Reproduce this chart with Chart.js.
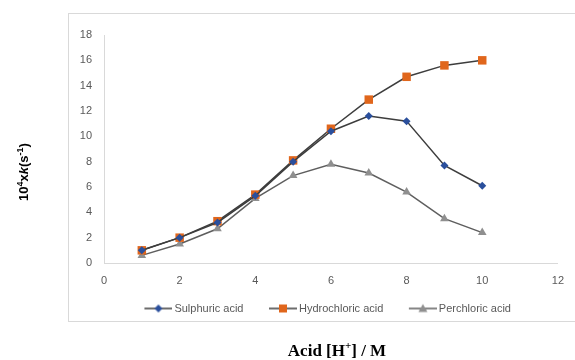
<!DOCTYPE html>
<html>
<head>
<meta charset="utf-8">
<script src="https://cdn.jsdelivr.net/npm/chart.js@4/dist/chart.umd.min.js"></script>
<style>
    html, body { margin: 0; padding: 0; background: #fff; }
    #wrap { width: 575px; height: 360px; }
</style>
</head>
<body>
<div id="wrap"><canvas id="lineChart" width="575" height="360"></canvas></div>
<script>
// acid concentration [H+] / M
const acidConc = [1, 2, 3, 4, 5, 6, 7, 8, 9, 10];
const sulphuric = [1.0, 2.0, 3.2, 5.3, 8.0, 10.4, 11.6, 11.2, 7.7, 6.1];
const hydrochloric = [1.0, 2.0, 3.3, 5.4, 8.1, 10.6, 12.9, 14.7, 15.6, 16.0];
const perchloric = [0.6, 1.5, 2.7, 5.1, 6.9, 7.8, 7.1, 5.6, 3.5, 2.4];
const seriesNames = ["Sulphuric acid", "Hydrochloric acid", "Perchloric acid"];
const xTicks = [0, 2, 4, 6, 8, 10, 12];
const yTicks = [0, 2, 4, 6, 8, 10, 12, 14, 16, 18];

const BLUE = "#2a4f9c";
const ORANGE = "#e0661c";
const GREY = "#8f8f8f";
const TICK_COLOR = "#595959";

function toPoints(vals) {
    return acidConc.map(function (x, i) { return { x: x, y: vals[i] }; });
}

// little line+marker picture for the legend, like excel does it.
// left part is empty so the items get more room between them
function legendIcon(style, fill, lineColor) {
    const c = document.createElement("canvas");
    c.width = 47;
    c.height = 12;
    const g = c.getContext("2d");
    g.strokeStyle = lineColor;
    g.lineWidth = 1.5;
    g.beginPath();
    g.moveTo(19, 6);
    g.lineTo(47, 6);
    g.stroke();
    g.fillStyle = fill;
    g.beginPath();
    const m = 33;
    if (style === "rectRot") {
        g.moveTo(m, 2); g.lineTo(m + 4, 6); g.lineTo(m, 10); g.lineTo(m - 4, 6);
    } else if (style === "rect") {
        g.rect(m - 4, 2, 8, 8);
    } else {
        g.moveTo(m, 1.5); g.lineTo(m + 4.5, 9.5); g.lineTo(m - 4.5, 9.5);
    }
    g.closePath();
    g.fill();
    return c;
}

const icons = [
    legendIcon("rectRot", BLUE, "#3d3d3d"),
    legendIcon("rect", ORANGE, "#3d3d3d"),
    legendIcon("triangle", GREY, "#5e5e5e"),
];

// draw text pieces (normal / superscript / italic) one after another
function drawPieces(ctx, pieces, x, y) {
    pieces.forEach(function (p) {
        ctx.font = p.font;
        ctx.fillText(p.t, x, y - (p.up || 0));
        x += ctx.measureText(p.t).width;
    });
}
function piecesWidth(ctx, pieces) {
    let w = 0;
    pieces.forEach(function (p) {
        ctx.font = p.font;
        w += ctx.measureText(p.t).width;
    });
    return w;
}

const decor = {
    id: "decor",
    afterLayout: function (chart) {
        // the icons have an empty left part, move the legend back a bit
        if (chart.legend) {
            chart.legend.left -= 11;
            chart.legend.right -= 11;
        }
    },
    beforeDraw: function (chart) {
        const ctx = chart.ctx;
        ctx.save();
        ctx.fillStyle = "#fff";
        ctx.fillRect(0, 0, chart.width, chart.height);
        ctx.strokeStyle = "#d9d9d9";
        ctx.lineWidth = 1;
        ctx.strokeRect(68.5, 13.5, 520, 308);
        ctx.restore();
    },
    afterDraw: function (chart) {
        const ctx = chart.ctx;
        ctx.save();
        ctx.fillStyle = "#000";
        ctx.textBaseline = "alphabetic";
        ctx.textAlign = "left";

        // x axis title
        const xs = "bold 17px 'Liberation Serif', serif";
        const xsSup = "bold 11px 'Liberation Serif', serif";
        const xPieces = [
            { t: "Acid [H", font: xs },
            { t: "+", font: xsSup, up: 7 },
            { t: "] / M", font: xs },
        ];
        const xw = piecesWidth(ctx, xPieces);
        drawPieces(ctx, xPieces, 337 - xw / 2, 356);

        // y axis title, rotated
        const ys = "bold 13px 'Liberation Sans', sans-serif";
        const ysIt = "italic bold 13px 'Liberation Sans', sans-serif";
        const ysSup = "bold 9px 'Liberation Sans', sans-serif";
        const yPieces = [
            { t: "10", font: ys },
            { t: "4", font: ysSup, up: 5 },
            { t: "x", font: ys },
            { t: "k", font: ysIt },
            { t: "(s", font: ys },
            { t: "-1", font: ysSup, up: 5 },
            { t: ")", font: ys },
        ];
        const yw = piecesWidth(ctx, yPieces);
        ctx.translate(28, 172);
        ctx.rotate(-Math.PI / 2);
        drawPieces(ctx, yPieces, -yw / 2, 0);
        ctx.restore();
    },
};

document.addEventListener("DOMContentLoaded", function () {
    Chart.defaults.font.family = "'Liberation Sans', Arial, sans-serif";
    Chart.defaults.color = TICK_COLOR;

    const ctx = document.getElementById("lineChart").getContext("2d");
    const chart = new Chart(ctx, {
        type: "line",
        data: {
            datasets: [
                {
                    label: seriesNames[0],
                    data: toPoints(sulphuric),
                    borderColor: "#3d3d3d",
                    borderWidth: 1.5,
                    pointStyle: "rectRot",
                    pointRadius: 4,
                    pointBackgroundColor: BLUE,
                    pointBorderColor: BLUE,
                    pointBorderWidth: 0,
                    tension: 0,
                },
                {
                    label: seriesNames[1],
                    data: toPoints(hydrochloric),
                    borderColor: "#3d3d3d",
                    borderWidth: 1.5,
                    pointStyle: "rect",
                    pointRadius: 6,
                    pointBackgroundColor: ORANGE,
                    pointBorderColor: ORANGE,
                    pointBorderWidth: 0,
                    tension: 0,
                },
                {
                    label: seriesNames[2],
                    data: toPoints(perchloric),
                    borderColor: "#5e5e5e",
                    borderWidth: 1.5,
                    pointStyle: "triangle",
                    pointRadius: 5,
                    pointBackgroundColor: GREY,
                    pointBorderColor: GREY,
                    pointBorderWidth: 0,
                    tension: 0,
                },
            ],
        },
        options: {
            responsive: false,
            animation: false,
            layout: {
                padding: { top: 35, right: 17, left: 70, bottom: 36 },
            },
            scales: {
                x: {
                    type: "linear",
                    min: 0,
                    max: 12,
                    afterBuildTicks: function (axis) {
                        axis.ticks = xTicks.map(function (v) { return { value: v }; });
                    },
                    afterFit: function (axis) { axis.height = 30; },
                    grid: { display: false, drawTicks: false },
                    border: { color: "#d9d9d9", width: 1 },
                    ticks: { padding: 11, font: { size: 11 }, color: TICK_COLOR },
                },
                y: {
                    min: 0,
                    max: 18,
                    afterBuildTicks: function (axis) {
                        axis.ticks = yTicks.map(function (v) { return { value: v }; });
                    },
                    afterFit: function (axis) { axis.width = 34; },
                    grid: { display: false, drawTicks: false },
                    border: { color: "#d9d9d9", width: 1 },
                    ticks: { padding: 12, font: { size: 11 }, color: TICK_COLOR },
                },
            },
            plugins: {
                tooltip: { enabled: false },
                legend: {
                    position: "bottom",
                    fullSize: false,
                    labels: {
                        usePointStyle: true,
                        pointStyleWidth: 40,
                        padding: 10,
                        color: TICK_COLOR,
                        font: { size: 11 },
                        generateLabels: function (ch) {
                            return ch.data.datasets.map(function (ds, i) {
                                return {
                                    text: ds.label,
                                    pointStyle: icons[i],
                                    fillStyle: "transparent",
                                    strokeStyle: "transparent",
                                    lineWidth: 0,
                                    fontColor: TICK_COLOR,
                                    hidden: false,
                                    datasetIndex: i,
                                };
                            });
                        },
                    },
                },
            },
        },
        plugins: [decor],
    });
});
</script>
</body>
</html>
